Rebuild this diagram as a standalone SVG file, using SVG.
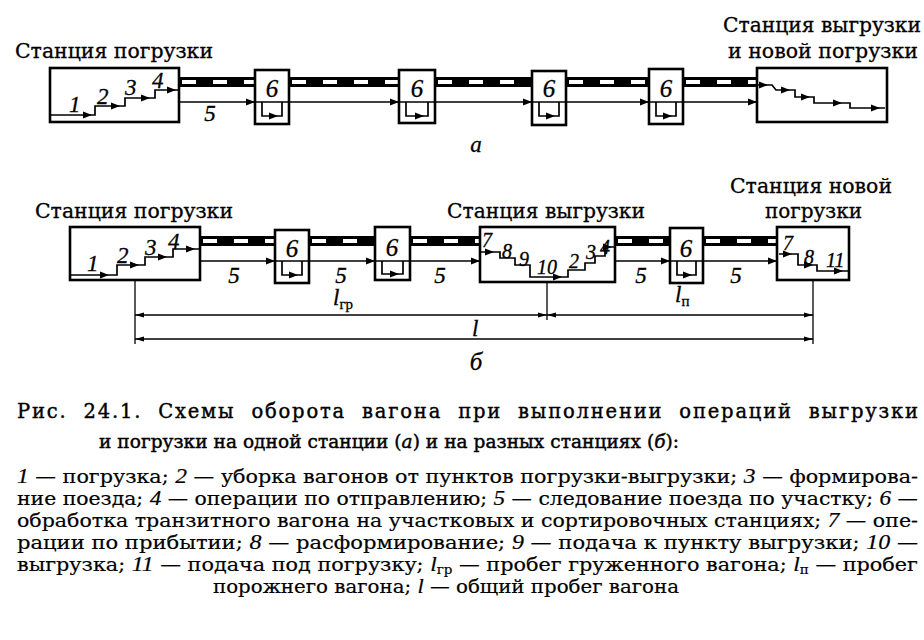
<svg xmlns="http://www.w3.org/2000/svg" xmlns:xlink="http://www.w3.org/1999/xlink" width="924" height="640" viewBox="0 0 924 640">
<defs>
<style>
.box{fill:#fff;stroke:#000;stroke-width:2.6}
.thin{fill:none;stroke:#000;stroke-width:1.7}
.dim{fill:none;stroke:#000;stroke-width:1.3}
.band{stroke:#000;stroke-width:10}
.dash{stroke:#fff;stroke-width:4;stroke-dasharray:14 17}
.lbl{font-family:"DejaVu Serif","Liberation Serif",serif;font-size:20px;fill:#000;stroke:#000;stroke-width:0.3}
.num{font-family:"Liberation Serif",serif;font-style:italic;font-size:23px;fill:#000;stroke:#000;stroke-width:0.3}
.big{font-family:"Liberation Serif",serif;font-style:italic;font-size:25px;fill:#000;stroke:#000;stroke-width:0.3}
.small{font-family:"Liberation Serif",serif;font-style:italic;font-size:20px;fill:#000;stroke:#000;stroke-width:0.3}
.cap{font-family:"DejaVu Serif","Liberation Serif",serif;font-size:19.5px;fill:#000;stroke:#000;stroke-width:0.4}
.cap2{font-family:"DejaVu Serif","Liberation Serif",serif;font-size:18.5px;fill:#000;stroke:#000;stroke-width:0.45}
.body{font-family:"DejaVu Serif","Liberation Serif",serif;font-size:18.5px;fill:#000;stroke:#000;stroke-width:0.2}
.it{font-family:"Liberation Serif",serif;font-style:italic;font-size:21px}
.iti{font-style:italic}
</style>
<path id="ah" d="M0,0 L-9,-3.5 L-9,3.5 Z" fill="#000"/>
<path id="dr" d="M0,0 L-9,-2.5 L-9,2.5 Z" fill="#000"/>
<path id="dl" d="M0,0 L9,-2.5 L9,2.5 Z" fill="#000"/>
</defs>
<rect width="924" height="640" fill="#fff"/>

<!-- ===== Diagram a: connectors ===== -->
<g id="connectors-a">
<line class="band" x1="179" y1="82" x2="255" y2="82"/><line class="dash" x1="182" y1="82" x2="255" y2="82"/>
<line class="band" x1="289" y1="82" x2="399" y2="82"/><line class="dash" x1="292" y1="82" x2="399" y2="82"/>
<line class="band" x1="435" y1="82" x2="532" y2="82"/><line class="dash" x1="438" y1="82" x2="532" y2="82"/>
<line class="band" x1="566" y1="82" x2="649" y2="82"/><line class="dash" x1="569" y1="82" x2="649" y2="82"/>
<line class="band" x1="683" y1="82" x2="757" y2="82"/><line class="dash" x1="686" y1="82" x2="757" y2="82"/>
<line class="thin" x1="179" y1="102" x2="255" y2="102"/><use xlink:href="#ah" x="255" y="102"/>
<line class="thin" x1="289" y1="102" x2="399" y2="102"/><use xlink:href="#ah" x="399" y="102"/>
<line class="thin" x1="435" y1="102" x2="532" y2="102"/><use xlink:href="#ah" x="532" y="102"/>
<line class="thin" x1="566" y1="102" x2="649" y2="102"/><use xlink:href="#ah" x="649" y="102"/>
<line class="thin" x1="683" y1="102" x2="757" y2="102"/><use xlink:href="#ah" x="757" y="102"/>
<text class="num" x="210" y="121" text-anchor="middle">5</text>
</g>

<g id="a-station-loading">
<text class="lbl" x="15" y="58" textLength="198" lengthAdjust="spacingAndGlyphs">Станция погрузки</text>
<rect class="box" x="50" y="68" width="129" height="54"/>
<path class="thin" d="M50,115 H95 V106 H125 V98 H155 V90 H179"/>
<use xlink:href="#ah" x="92" y="115"/><use xlink:href="#ah" x="120" y="106"/><use xlink:href="#ah" x="150" y="98"/><use xlink:href="#ah" x="176" y="90"/>
<text class="num" x="69" y="112">1</text>
<text class="num" x="97" y="104">2</text>
<text class="num" x="125" y="95">3</text>
<text class="num" x="152" y="88">4</text>
</g>

<g id="a-box6-1">
<rect class="box" x="255" y="70" width="34" height="54"/>
<line class="thin" x1="255" y1="102" x2="289" y2="102"/>
<path class="thin" d="M262,102 V116 H282 V102"/><use xlink:href="#ah" x="278" y="116"/>
<text class="big" x="272" y="97" text-anchor="middle">6</text>
</g>
<g id="a-box6-2">
<rect class="box" x="399" y="70" width="36" height="53"/>
<line class="thin" x1="399" y1="102" x2="435" y2="102"/>
<path class="thin" d="M406,102 V116 H428 V102"/><use xlink:href="#ah" x="424" y="116"/>
<text class="big" x="417" y="97" text-anchor="middle">6</text>
</g>
<g id="a-box6-3">
<rect class="box" x="532" y="71" width="34" height="54"/>
<line class="thin" x1="532" y1="102" x2="566" y2="102"/>
<path class="thin" d="M539,102 V116 H559 V102"/><use xlink:href="#ah" x="555" y="116"/>
<text class="big" x="549" y="97" text-anchor="middle">6</text>
</g>
<g id="a-box6-4">
<rect class="box" x="649" y="69" width="34" height="55"/>
<line class="thin" x1="649" y1="102" x2="683" y2="102"/>
<path class="thin" d="M656,102 V116 H676 V102"/><use xlink:href="#ah" x="672" y="116"/>
<text class="big" x="666" y="97" text-anchor="middle">6</text>
</g>

<g id="a-station-unloading">
<text class="lbl" x="723" y="32" textLength="198" lengthAdjust="spacingAndGlyphs">Станция выгрузки</text>
<text class="lbl" x="728" y="58" textLength="190" lengthAdjust="spacingAndGlyphs">и новой погрузки</text>
<rect class="box" x="757" y="68" width="130" height="54"/>
<path class="thin" d="M757,85 H772 L776,90 H795 V97 H814 V103 H850 V108 H885"/>
<use xlink:href="#ah" x="768" y="85"/><use xlink:href="#ah" x="790" y="90"/><use xlink:href="#ah" x="810" y="97"/><use xlink:href="#ah" x="842" y="103"/><use xlink:href="#ah" x="880" y="108"/>
</g>
<text class="num" x="476" y="152" text-anchor="middle">а</text>

<!-- ===== Diagram b: connectors ===== -->
<g id="connectors-b">
<line class="band" x1="200" y1="241" x2="275" y2="241"/><line class="dash" x1="203" y1="241" x2="275" y2="241"/>
<line class="band" x1="309" y1="241" x2="375" y2="241"/><line class="dash" x1="312" y1="241" x2="375" y2="241"/>
<line class="band" x1="410" y1="241" x2="480" y2="241"/><line class="dash" x1="413" y1="241" x2="480" y2="241"/>
<line class="band" x1="615" y1="241" x2="670" y2="241"/><line class="dash" x1="618" y1="241" x2="670" y2="241"/>
<line class="band" x1="703" y1="241" x2="777" y2="241"/><line class="dash" x1="706" y1="241" x2="777" y2="241"/>
<line class="thin" x1="200" y1="261" x2="275" y2="261"/><use xlink:href="#ah" x="275" y="261"/>
<line class="thin" x1="309" y1="261" x2="375" y2="261"/><use xlink:href="#ah" x="375" y="261"/>
<line class="thin" x1="410" y1="261" x2="480" y2="261"/><use xlink:href="#ah" x="480" y="261"/>
<line class="thin" x1="615" y1="261" x2="670" y2="261"/><use xlink:href="#ah" x="670" y="261"/>
<line class="thin" x1="703" y1="261" x2="777" y2="261"/><use xlink:href="#ah" x="777" y="261"/>
<text class="num" x="234" y="283" text-anchor="middle">5</text>
<text class="num" x="341" y="283" text-anchor="middle">5</text>
<text class="num" x="440" y="283" text-anchor="middle">5</text>
<text class="num" x="641" y="283" text-anchor="middle">5</text>
<text class="num" x="736" y="283" text-anchor="middle">5</text>
<!-- dimension lines -->
<line class="dim" x1="135" y1="280" x2="135" y2="344"/>
<line class="dim" x1="547" y1="282" x2="547" y2="320"/>
<line class="dim" x1="813" y1="280" x2="813" y2="344"/>
<line class="dim" x1="135" y1="315" x2="547" y2="315"/>
<use xlink:href="#dl" x="135" y="315"/><use xlink:href="#dr" x="547" y="315"/>
<line class="dim" x1="547" y1="315" x2="813" y2="315"/>
<use xlink:href="#dl" x="547" y="315"/><use xlink:href="#dr" x="813" y="315"/>
<line class="dim" x1="135" y1="339" x2="813" y2="339"/>
<use xlink:href="#dl" x="135" y="339"/><use xlink:href="#dr" x="813" y="339"/>
<text class="num" x="333" y="305">l<tspan font-style="normal" font-size="15" dy="4">гр</tspan></text>
<text class="num" x="675" y="302">l<tspan font-style="normal" font-size="15" dy="4">п</tspan></text>
<text class="num" x="472" y="336">l</text>
</g>

<g id="b-station-loading">
<text class="lbl" x="35" y="218" textLength="198" lengthAdjust="spacingAndGlyphs">Станция погрузки</text>
<rect class="box" x="70" y="227" width="130" height="53"/>
<path class="thin" d="M70,275 H117 V265 H145 V257 H173 V249 H200"/>
<use xlink:href="#ah" x="109" y="275"/><use xlink:href="#ah" x="139" y="265"/><use xlink:href="#ah" x="167" y="257"/><use xlink:href="#ah" x="195" y="249"/>
<text class="num" x="87" y="271">1</text>
<text class="num" x="117" y="263">2</text>
<text class="num" x="145" y="255">3</text>
<text class="num" x="168" y="249">4</text>
</g>

<g id="b-box6-1">
<rect class="box" x="275" y="230" width="34" height="53"/>
<line class="thin" x1="275" y1="261" x2="309" y2="261"/>
<path class="thin" d="M282,261 V275 H302 V261"/><use xlink:href="#ah" x="298" y="275"/>
<text class="big" x="292" y="257" text-anchor="middle">6</text>
</g>
<g id="b-box6-2">
<rect class="box" x="375" y="227" width="35" height="53"/>
<line class="thin" x1="375" y1="261" x2="410" y2="261"/>
<path class="thin" d="M382,261 V274 H403 V261"/><use xlink:href="#ah" x="399" y="274"/>
<text class="big" x="392" y="256" text-anchor="middle">6</text>
</g>

<g id="b-station-unloading">
<text class="lbl" x="447" y="218" textLength="198" lengthAdjust="spacingAndGlyphs">Станция выгрузки</text>
<rect class="box" x="480" y="227" width="135" height="55"/>
<path class="thin" d="M481,252 H500 V258 H515 V265 H530 V277 H568 V270 H585 V263 H595 V256 H605 V247 H615"/>
<use xlink:href="#ah" x="494" y="252"/><use xlink:href="#ah" x="562" y="277"/><use xlink:href="#ah" x="612" y="247"/>
<text class="small" x="482" y="247">7</text>
<text class="small" x="502" y="258">8</text>
<text class="small" x="519" y="266">9</text>
<text class="small" x="537" y="274">10</text>
<text class="small" x="569" y="268">2</text>
<text class="small" x="586" y="259">3</text>
<text class="small" x="600" y="254">4</text>
</g>

<g id="b-box6-3">
<rect class="box" x="670" y="228" width="33" height="55"/>
<line class="thin" x1="670" y1="261" x2="703" y2="261"/>
<path class="thin" d="M677,261 V275 H696 V261"/><use xlink:href="#ah" x="692" y="275"/>
<text class="big" x="686" y="257" text-anchor="middle">6</text>
</g>

<g id="b-station-newloading">
<text class="lbl" x="730" y="193" textLength="162" lengthAdjust="spacingAndGlyphs">Станция новой</text>
<text class="lbl" x="765" y="218" textLength="97" lengthAdjust="spacingAndGlyphs">погрузки</text>
<rect class="box" x="777" y="227" width="72" height="53"/>
<path class="thin" d="M779,254 H798 V265 H817 V271 H849"/>
<use xlink:href="#ah" x="792" y="254"/><use xlink:href="#ah" x="813" y="265"/><use xlink:href="#ah" x="843" y="271"/>
<text class="small" x="783" y="250">7</text>
<text class="small" x="804" y="264">8</text>
<text class="small" x="826" y="267">11</text>
</g>
<text class="big" x="476" y="370" text-anchor="middle">б</text>

<!-- ===== Caption ===== -->
<g id="caption">
<text class="cap" x="17" y="418" textLength="901" lengthAdjust="spacing" word-spacing="8">Рис. 24.1. Схемы оборота вагона при выполнении операций выгрузки</text>
<text class="cap2" x="99" y="448" textLength="580" lengthAdjust="spacing">и погрузки на одной станции (<tspan class="iti">а</tspan>) и на разных станциях (<tspan class="iti">б</tspan>):</text>
<text class="body" x="17" y="483" textLength="901" lengthAdjust="spacingAndGlyphs"><tspan class="it">1</tspan> — погрузка; <tspan class="it">2</tspan> — уборка вагонов от пунктов погрузки-выгрузки; <tspan class="it">3</tspan> — формирова-</text>
<text class="body" x="17" y="505" textLength="901" lengthAdjust="spacingAndGlyphs">ние поезда; <tspan class="it">4</tspan> — операции по отправлению; <tspan class="it">5</tspan> — следование поезда по участку; <tspan class="it">6</tspan> —</text>
<text class="body" x="17" y="527" textLength="901" lengthAdjust="spacingAndGlyphs">обработка транзитного вагона на участковых и сортировочных станциях; <tspan class="it">7</tspan> — опе-</text>
<text class="body" x="17" y="549" textLength="901" lengthAdjust="spacingAndGlyphs">рации по прибытии; <tspan class="it">8</tspan> — расформирование; <tspan class="it">9</tspan> — подача к пункту выгрузки; <tspan class="it">10</tspan> —</text>
<text class="body" x="17" y="571" textLength="901" lengthAdjust="spacingAndGlyphs">выгрузка; <tspan class="it">11</tspan> — подача под погрузку; <tspan class="it">l</tspan><tspan font-size="12" dy="3">гр</tspan><tspan dy="-3"> — пробег груженного вагона; </tspan><tspan class="it">l</tspan><tspan font-size="12" dy="3">п</tspan><tspan dy="-3"> — пробег</tspan></text>
<text class="body" x="213" y="593" textLength="466" lengthAdjust="spacingAndGlyphs">порожнего вагона; <tspan class="it">l</tspan> — общий пробег вагона</text>
</g>
</svg>
